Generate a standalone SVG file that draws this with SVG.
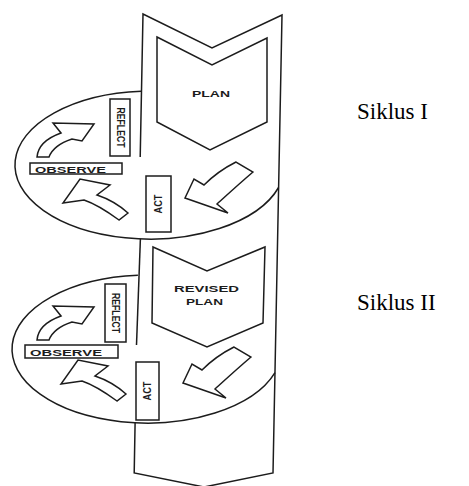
<svg xmlns="http://www.w3.org/2000/svg" width="469" height="486" viewBox="0 0 469 486">
  <style>
    .ln { fill: none; stroke: #1c1c1c; stroke-width: 1.5; stroke-linejoin: miter; }
    .box { fill: #fff; stroke: #1c1c1c; stroke-width: 1.5; }
    .arr { fill: #fff; stroke: #1c1c1c; stroke-width: 1.5; stroke-linejoin: miter; }
    .lbl { font-family: "Liberation Sans", Arial, sans-serif; font-weight: bold; fill: #1c1c1c; }
    .cyc { font-family: "Liberation Serif", "Times New Roman", serif; font-size: 23px; fill: #000; }
  </style>
  <rect width="469" height="486" fill="#fff"/>

  <!-- the long vertical band that carries the plans -->
  <g id="band">
    <path class="ln" d="M140.2,157 L143,14 L212,48 L282,15 L273,473 L204,487 L134.2,473 L135.1,422.8"/>
    <path class="ln" d="M140.4,238.8 L136.5,345"/>
  </g>

  <!-- cycle I -->
  <g id="cycle-1">
    <path class="ln" d="M141.3,91.2 A135,74 0 1,0 278.6,187.5"/>
  </g>
  <g id="plan">
    <path class="ln" d="M157,37 L212,65 L267,38 L267,122 L210,150 L157,122 Z"/>
    <text class="lbl" x="192" y="97" font-size="9.5" textLength="38" lengthAdjust="spacingAndGlyphs">PLAN</text>
  </g>
  <g id="reflect-1">
    <rect class="box" x="110" y="99" width="20" height="57"/>
    <text class="lbl" font-size="10" text-anchor="middle" textLength="40" lengthAdjust="spacingAndGlyphs" transform="translate(116.5,127.5) rotate(90)">REFLECT</text>
  </g>
  <g id="observe-1">
    <rect class="box" x="30" y="163" width="92" height="11"/>
    <text class="lbl" x="35" y="172.5" font-size="9" textLength="71" lengthAdjust="spacingAndGlyphs">OBSERVE</text>
  </g>
  <g id="act-1">
    <rect class="box" x="146" y="176" width="25" height="56"/>
    <text class="lbl" font-size="10" text-anchor="middle" textLength="19" lengthAdjust="spacingAndGlyphs" transform="translate(162,204) rotate(-90)">ACT</text>
  </g>

  <!-- cycle II -->
  <g id="cycle-2">
    <path class="ln" d="M137.9,275.2 A135,74 0 1,0 275,372.6"/>
  </g>
  <g id="revised-plan">
    <path class="ln" d="M153,247 L207,271 L265,247 L263,323 L207,347 L152,323 Z"/>
    <text class="lbl" x="174" y="292" font-size="9.5" textLength="65" lengthAdjust="spacingAndGlyphs">REVISED</text>
    <text class="lbl" x="186" y="305" font-size="9.5" textLength="37" lengthAdjust="spacingAndGlyphs">PLAN</text>
  </g>
  <g id="reflect-2">
    <rect class="box" x="105" y="284" width="21" height="58"/>
    <text class="lbl" font-size="10" text-anchor="middle" textLength="40" lengthAdjust="spacingAndGlyphs" transform="translate(112,313) rotate(90)">REFLECT</text>
  </g>
  <g id="observe-2">
    <rect class="box" x="25" y="345" width="93" height="13"/>
    <text class="lbl" x="30" y="355.5" font-size="9" textLength="72" lengthAdjust="spacingAndGlyphs">OBSERVE</text>
  </g>
  <g id="act-2">
    <rect class="box" x="136" y="362" width="23" height="58"/>
    <text class="lbl" font-size="10" text-anchor="middle" textLength="19" lengthAdjust="spacingAndGlyphs" transform="translate(151,391) rotate(-90)">ACT</text>
  </g>

  <!-- curved block arrows turning each cycle -->
  <g id="connectors">
    <path id="plan-to-act-1" class="arr" d="M236,162 C224,168 212,177 204,185 L194,179 L185,198 L228,213 L217,204 C228,194 240,183 253,172 Z"/>
    <path id="act-to-observe-1" class="arr" d="M128,213 C118,204 106,198 97,195 L110,185 L80,179 L63,203 L84,200 C96,204 108,212 119,220 Z"/>
    <path id="observe-to-reflect-1" class="arr" d="M37,157 C38,146 47,138 61,133 L53,123 L94,124 L82,141 L72,139 C60,143 52,149 49,157 Z"/>
    <g transform="translate(-2,185)">
      <path id="plan-to-act-2" class="arr" d="M236,162 C224,168 212,177 204,185 L194,179 L185,198 L228,213 L217,204 C228,194 240,183 253,172 Z"/>
    </g>
    <g transform="translate(-2,181)">
      <path id="act-to-observe-2" class="arr" d="M128,213 C118,204 106,198 97,195 L110,185 L80,179 L63,203 L84,200 C96,204 108,212 119,220 Z"/>
    </g>
    <g transform="translate(0,183)">
      <path id="observe-to-reflect-2" class="arr" d="M37,157 C38,146 47,138 61,133 L53,123 L94,124 L82,141 L72,139 C60,143 52,149 49,157 Z"/>
    </g>
  </g>

  <!-- cycle captions -->
  <g id="captions">
    <text class="cyc" x="357" y="119">Siklus I</text>
    <text class="cyc" x="357" y="310">Siklus II</text>
  </g>
</svg>
